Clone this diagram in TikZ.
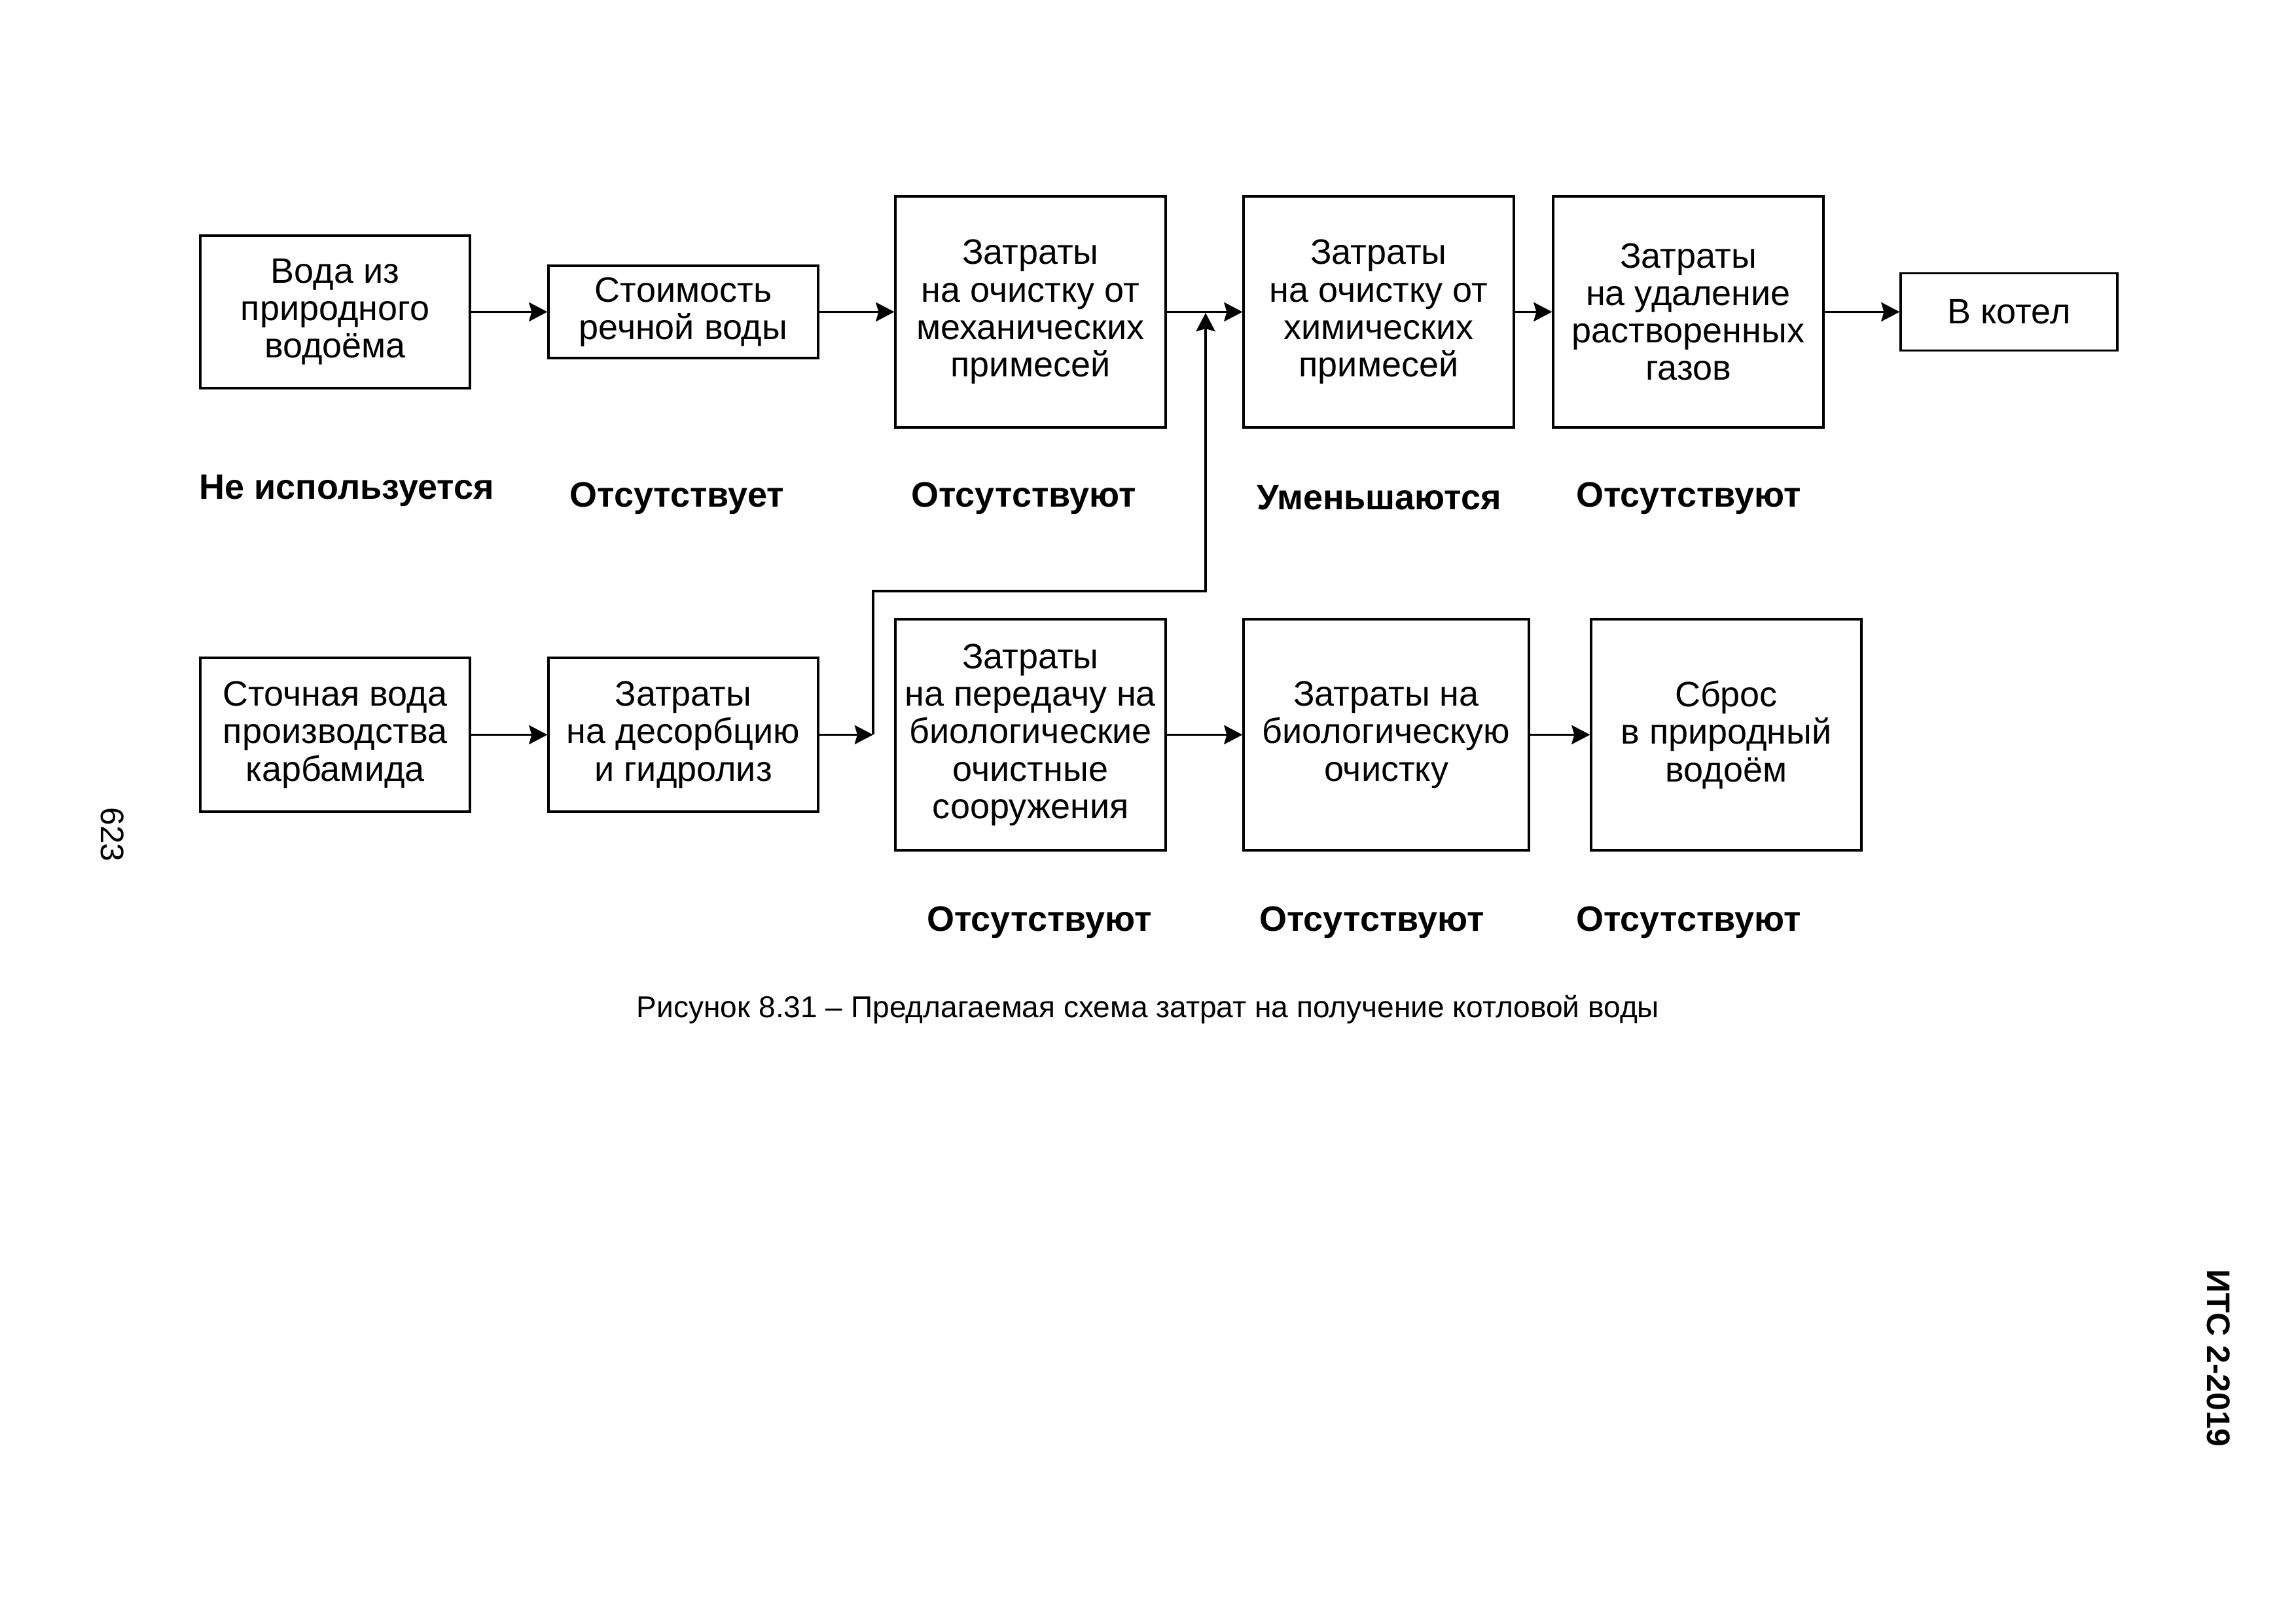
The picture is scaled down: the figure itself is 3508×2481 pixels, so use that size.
\documentclass[tikz,border=0pt]{standalone}
\usepackage{fontspec}
\setmainfont{Liberation Sans}
\usetikzlibrary{arrows.meta}
\tikzset{
  x=0.0846667mm, y=-0.0846667mm,
  box/.style={draw, line width=0.75pt, align=center, inner sep=0pt,
    font=\fontsize{13}{13.8}\selectfont},
  arr/.style={line width=0.9pt, -{Stealth[length=6.8pt, width=7pt, inset=1pt]}},
  lbl/.style={font=\bfseries\fontsize{13}{15}\selectfont, inner sep=0pt}
}
\begin{document}
\begin{tikzpicture}
\useasboundingbox (0,0) rectangle (3508,2481);
% top row
\node[box, minimum width=412*0.0846667mm, minimum height=233*0.0846667mm] (b1) at (512,476.5) {Вода из\\природного\\водоёма};
\node[box, minimum width=412*0.0846667mm, minimum height=141*0.0846667mm] (b2) at (1044,476.5) {Стоимость\\речной воды};
\node[box, minimum width=413*0.0846667mm, minimum height=353*0.0846667mm] (b3) at (1574.5,476.5) {Затраты\\на очистку от\\механических\\примесей};
\node[box, minimum width=413*0.0846667mm, minimum height=353*0.0846667mm] (b4) at (2106.5,476.5) {Затраты\\на очистку от\\химических\\примесей};
\node[box, minimum width=413*0.0846667mm, minimum height=353*0.0846667mm] (b5) at (2579.5,476.5) {Затраты\\на удаление\\растворенных\\газов};
\node[box, minimum width=331*0.0846667mm, minimum height=118*0.0846667mm] (b6) at (3069.5,476.5) {В котел};
% bottom row
\node[box, minimum width=412*0.0846667mm, minimum height=235*0.0846667mm] (b7) at (512,1122.5) {Сточная вода\\производства\\карбамида};
\node[box, minimum width=412*0.0846667mm, minimum height=235*0.0846667mm] (b8) at (1044,1122.5) {Затраты\\на десорбцию\\и гидролиз};
\node[box, minimum width=413*0.0846667mm, minimum height=353*0.0846667mm] (b9) at (1574.5,1122.5) {Затраты\\на передачу на\\биологические\\очистные\\сооружения};
\node[box, minimum width=436*0.0846667mm, minimum height=353*0.0846667mm] (b10) at (2118,1122.5) {Затраты на\\биологическую\\очистку};
\node[box, minimum width=413*0.0846667mm, minimum height=353*0.0846667mm] (b11) at (2637.5,1122.5) {Сброс\\в природный\\водоём};
% connectors
\draw[arr] (b1) -- (b2);
\draw[arr] (b2) -- (b3);
\draw[arr] (b3) -- (b4);
\draw[arr] (b4) -- (b5);
\draw[arr] (b5) -- (b6);
\draw[arr] (b7) -- (b8);
\coordinate (j1) at (1334,1122.5);
\coordinate (j2) at (1842,903);
\coordinate (j3) at (1842,478);
\draw[arr] (b8) -- (j1);
\draw[arr] (j1) |- (j2) -- (j3);
\draw[arr] (b9) -- (b10);
\draw[arr] (b10) -- (b11);
% labels
\node[lbl, anchor=west] (l1) at (304,750) {Не используется};
\node[lbl] (l2) at (1034,761) {Отсутствует};
\node[lbl] (l3) at (1564,761) {Отсутствуют};
\node[lbl] (l4) at (2107,760) {Уменьшаются};
\node[lbl] (l5) at (2580,761) {Отсутствуют};
\node[lbl] (l6) at (1588,1409) {Отсутствуют};
\node[lbl] (l7) at (2096,1409) {Отсутствуют};
\node[lbl] (l8) at (2580,1409) {Отсутствуют};
% caption
\node[font=\fontsize{11.1}{13}\selectfont, inner sep=0pt] (cap) at (1754,1542) {Рисунок 8.31 – Предлагаемая схема затрат на получение котловой воды};
% page marks
\node[font=\fontsize{12}{14}\selectfont, inner sep=0pt, rotate=-90] (pg) at (172,1275) {623};
\node[font=\bfseries\fontsize{12}{14}\selectfont, inner sep=0pt, rotate=-90] (its) at (3390,2075) {ИТС 2-2019};
\end{tikzpicture}
\end{document}
